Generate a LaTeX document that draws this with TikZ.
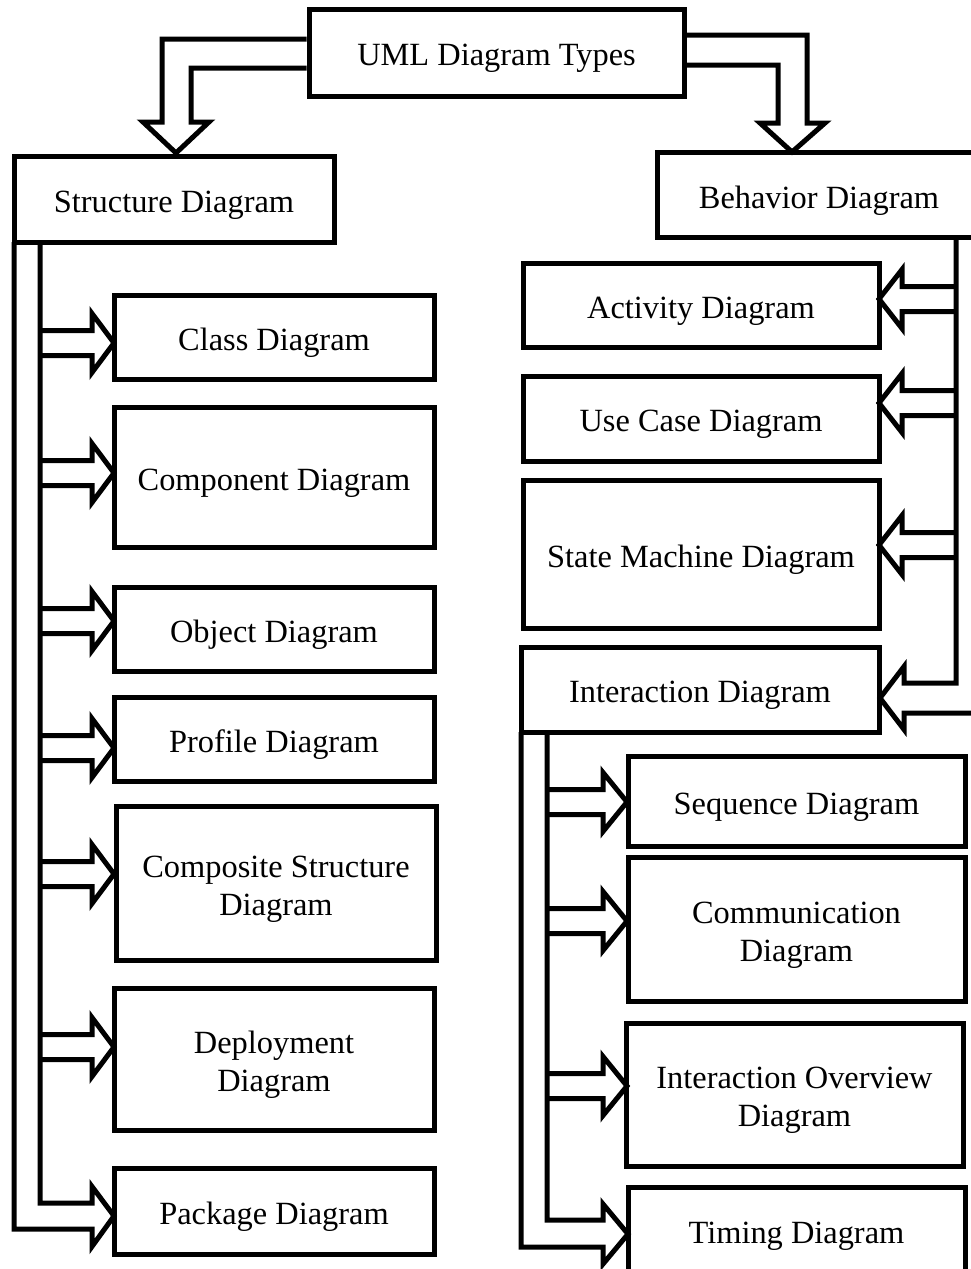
\documentclass[tikz,border=0pt]{standalone}
\usepackage{fontspec}
\setmainfont{Liberation Serif}
\begin{document}
\begin{tikzpicture}[x=1pt,y=-1pt,
  box/.style={draw,line width=5pt,inner sep=0pt},
  txt/.style={inner sep=0pt,align=center,font=\fontsize{32.4}{38}\selectfont},
  blk/.style={draw,line width=5pt,line join=miter,miter limit=10}]
\useasboundingbox (0,0) rectangle (971,1269);
\clip (0,0) rectangle (971,1269);
\newcommand\bx[6]{\node[box,minimum width={(#4)-(#2)},minimum height={(#5)-(#3)}] (#1) at ({((#2)+(#4))/2},{((#3)+(#5))/2}) {};
  \node[txt] (#1-t) at ([yshift=-6pt]#1.center) {#6};}
\newcommand\arw[4]{\draw[blk] (#1,#2-12.5) -- (#3,#2-12.5) -- (#3,#2-29.5) -- (#4,#2) -- (#3,#2+29.5) -- (#3,#2+12.5) -- (#1,#2+12.5);}
% boxes
\bx{uml}{309}{9}{684}{96}{UML Diagram Types}
\bx{struct}{14}{156}{334}{242}{Structure Diagram}
\bx{behav}{657}{152}{981}{237}{Behavior Diagram}
\bx{class}{114}{295}{434}{379}{Class Diagram}
\bx{comp}{114}{407}{434}{547}{Component Diagram}
\bx{obj}{114}{587}{434}{671}{Object Diagram}
\bx{prof}{114}{697}{434}{781}{Profile Diagram}
\bx{csd}{116}{806}{436}{960}{Composite Structure\\Diagram}
\bx{depl}{114}{988}{434}{1130}{Deployment\\Diagram}
\bx{pkg}{114}{1168}{434}{1254}{Package Diagram}
\bx{act}{523}{263}{879}{347}{Activity Diagram}
\bx{uc}{523}{376}{879}{461}{Use Case Diagram}
\bx{sm}{523}{480}{879}{628}{State Machine Diagram}
\bx{inter}{521}{647}{879}{732}{Interaction Diagram}
\bx{seq}{628}{756}{965}{846}{Sequence Diagram}
\bx{comm}{628}{857}{965}{1001}{Communication\\Diagram}
\bx{iod}{626}{1023}{963}{1166}{Interaction Overview\\Diagram}
\bx{tim}{628}{1187}{965}{1274}{Timing Diagram}
% top arrows
\draw[blk] (uml.west |- 0,39) -- (162,39) -- (162,122) -- (143,122) -- (176,153) -- (209,122) -- (191,122) -- (191,68) -- (uml.west |- 0,68);
\draw[blk] (uml.east |- 0,35) -- (807,35) -- (807,123) -- (825,123) -- (792,152) -- (760,123) -- (778,123) -- (778,65) -- (uml.east |- 0,65);
% left pipe
\draw[blk] (14,242) -- (14,1229) -- (92,1229) -- (92,1246.5) -- (114,1216) -- (92,1186.5) -- (92,1203) -- (40,1203) -- (40,242);
\arw{40}{343}{92}{114}
\arw{40}{473}{92}{114}
\arw{40}{621}{92}{114}
\arw{40}{748}{92}{114}
\arw{40}{874}{92}{114}
\arw{40}{1047}{92}{114}
% right pipe
\draw[blk] (956,237) -- (956,683) -- (904,683) -- (904,666.5) -- (880,698) -- (904,729.5) -- (904,713) -- (990,713);
\arw{956}{299}{902}{879}
\arw{956}{403}{902}{879}
\arw{956}{545}{902}{879}
% interaction pipe
\draw[blk] (521,732) -- (521,1247) -- (603,1247) -- (603,1264) -- (628,1234) -- (603,1204) -- (603,1220) -- (547,1220) -- (547,732);
\arw{547}{802}{603}{627}
\arw{547}{921}{603}{627}
\arw{547}{1086}{603}{627}
\end{tikzpicture}
\end{document}
